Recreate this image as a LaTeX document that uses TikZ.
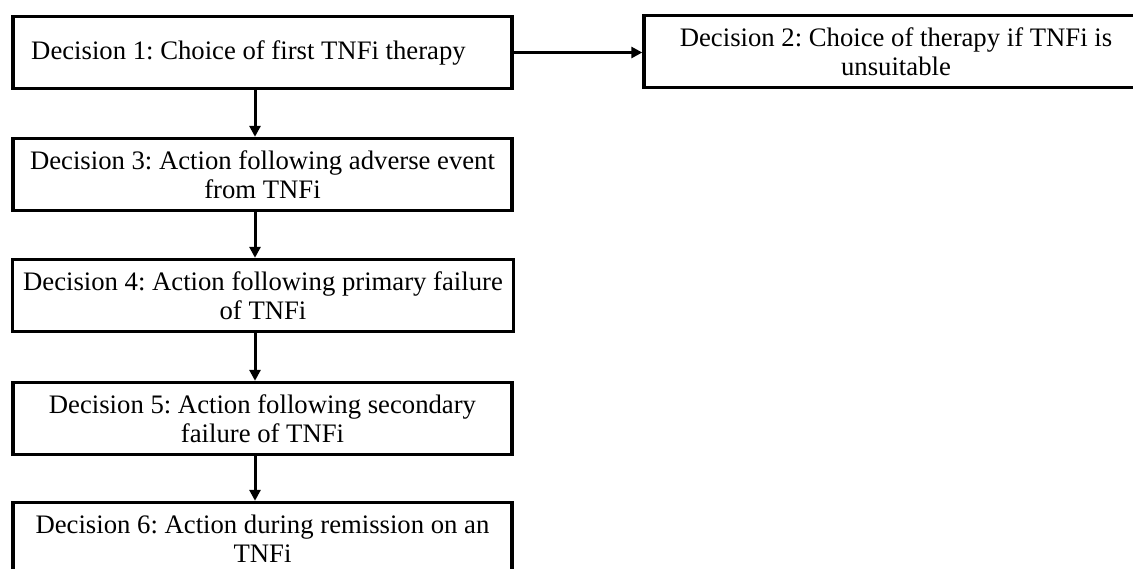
\documentclass[tikz,border=0pt]{standalone}
\usepackage{fontspec}
\setmainfont{Liberation Serif}
\usetikzlibrary{arrows.meta}
\frenchspacing
\begin{document}
\begin{tikzpicture}[x=1pt,y=-1pt,
  decision/.style={draw=black, line width=3.4pt, fill=white, inner sep=0pt,
    minimum width=499pt, minimum height=72pt, align=center,
    font=\fontsize{26.7}{29.5}\selectfont},
  flow/.style={line width=3pt, -{Triangle[length=11pt,width=11pt]}}]
  % page frame, also clipping the boxes that run off the edge
  \path[use as bounding box, fill=white] (0,0) rectangle (1133,568);
  \clip (0,0) rectangle (1133,568);

  \node[decision] (d1) at (262.5,52.5) {\hspace*{-28pt}Decision 1: Choice of first TNFi therapy};
  \node[decision, minimum width=504pt] (d2) at (896,51.5) {Decision 2: Choice of therapy if TNFi is\\unsuitable};
  \node[decision] (d3) at (262.5,174.5) {Decision 3: Action following adverse event\\from TNFi};
  \node[decision, minimum width=501pt] (d4) at (263,295.5) {Decision 4: Action following primary failure\\of TNFi};
  \node[decision] (d5) at (262.5,418.5) {Decision 5: Action following secondary\\failure of TNFi};
  \node[decision, font=\fontsize{26.7}{28.5}\selectfont] (d6) at (262.5,538.5) {Decision 6: Action during remission on an\\TNFi};

  % connectors
  \draw[flow] (d1.east) -- (d1.east -| d2.west);
  \draw[flow] ([xshift=-7.5pt]d1.south) -- ([xshift=-7.5pt]d3.north);
  \draw[flow] ([xshift=-7.5pt]d3.south) -- ([xshift=-7.5pt]d3.south |- d4.north);
  \draw[flow] ([xshift=-8pt]d4.south) -- ([xshift=-7.5pt]d5.north);
  \draw[flow] ([xshift=-7.5pt]d5.south) -- ([xshift=-7.5pt]d6.north);
\end{tikzpicture}
\end{document}
